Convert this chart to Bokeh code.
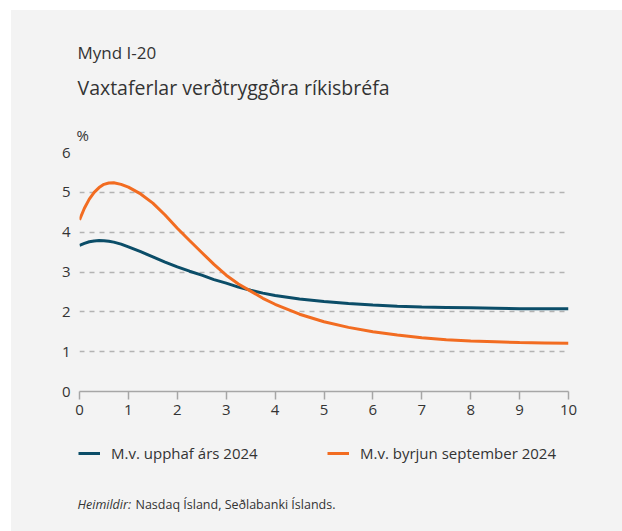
from bokeh.plotting import figure
from bokeh.models import Range1d, FixedTicker, Label, Legend, LegendItem
from bokeh.layouts import column
from bokeh.embed import file_html
from bokeh.resources import INLINE

# ---- data ----
maturity = [0, 0.1, 0.2, 0.3, 0.4, 0.5, 0.6, 0.7, 0.85, 1, 1.25, 1.5, 1.75, 2,
            2.25, 2.5, 2.75, 3, 3.25, 3.5, 3.75, 4, 4.5, 5, 5.5, 6, 6.5, 7,
            7.5, 8, 8.5, 9, 9.5, 10]
upphaf_2024 = [3.67, 3.72, 3.76, 3.78, 3.79, 3.785, 3.77, 3.75, 3.70, 3.63,
               3.51, 3.38, 3.25, 3.13, 3.02, 2.92, 2.81, 2.72, 2.62, 2.54,
               2.47, 2.41, 2.32, 2.26, 2.21, 2.17, 2.14, 2.12, 2.11, 2.10,
               2.09, 2.08, 2.08, 2.08]
sept_2024 = [4.31, 4.60, 4.83, 5.00, 5.12, 5.20, 5.235, 5.24, 5.20, 5.13,
             4.96, 4.73, 4.43, 4.10, 3.79, 3.49, 3.19, 2.92, 2.70, 2.52,
             2.34, 2.19, 1.94, 1.75, 1.61, 1.50, 1.42, 1.35, 1.30, 1.27,
             1.25, 1.23, 1.22, 1.21]
x_ticks = [0, 1, 2, 3, 4, 5, 6, 7, 8, 9, 10]
y_ticks = [0, 1, 2, 3, 4, 5, 6]
series_names = ["M.v. upphaf árs 2024", "M.v. byrjun september 2024"]
title_text = "Mynd I-20"
subtitle_text = "Vaxtaferlar verðtryggðra ríkisbréfa"
unit_text = "%"
source_italic = "Heimildir:"
source_rest = "Nasdaq Ísland, Seðlabanki Íslands."

NAVY = "#0b4d68"
ORANGE = "#f26c21"
BG = "#f3f3f3"
TXT = "#333333"
FONT = "Open Sans"
W = 611


def blank_fig(height):
    f = figure(width=W, height=height, output_backend="svg", toolbar_location=None,
               x_range=Range1d(0, W), y_range=Range1d(height, 0),
               x_axis_location=None, y_axis_location=None,
               min_border=0, background_fill_color=BG, border_fill_color=BG,
               outline_line_color=None, frame_align=False)
    f.xgrid.visible = False
    f.ygrid.visible = False
    return f


def add_label(f, x, y, text, size, style="normal"):
    f.add_layout(Label(x=x, y=y, text=text, text_font=FONT, text_font_size=size,
                       text_color=TXT, text_font_style=style,
                       text_baseline="alphabetic", text_align="left"))


# ---- header (titles and unit) ----
header = blank_fig(132)
add_label(header, 66, 41.7, title_text, "17px")
add_label(header, 66, 76.7, subtitle_text, "19.5px")
add_label(header, 65, 124.3, unit_text, "15px")

# ---- main chart ----
p = figure(width=W, height=283, output_backend="svg", toolbar_location=None,
           x_range=Range1d(0, 10), y_range=Range1d(0, 6),
           min_border_left=68, min_border_right=54, min_border_top=10,
           min_border_bottom=34, background_fill_color=BG,
           border_fill_color=BG, outline_line_color=None, frame_align=False)

p.line(maturity, upphaf_2024, line_color=NAVY, line_width=3)
p.line(maturity, sept_2024, line_color=ORANGE, line_width=3)

p.xaxis.ticker = FixedTicker(ticks=x_ticks)
p.yaxis.ticker = FixedTicker(ticks=y_ticks)
p.xaxis.axis_line_color = "#a6a6a6"
p.xaxis.axis_line_width = 1.5
p.xaxis.major_tick_line_color = "#a6a6a6"
p.xaxis.major_tick_line_width = 1.5
p.xaxis.major_tick_in = 0
p.xaxis.major_tick_out = 8
p.xaxis.minor_tick_line_color = None
p.xaxis.major_label_standoff = 5
p.yaxis.axis_line_color = None
p.yaxis.major_tick_line_color = None
p.yaxis.minor_tick_line_color = None
p.yaxis.major_tick_out = 0
p.yaxis.major_tick_in = 0
p.yaxis.major_label_standoff = 9
for ax in (p.xaxis[0], p.yaxis[0]):
    ax.major_label_text_font = FONT
    ax.major_label_text_font_size = "15px"
    ax.major_label_text_color = TXT

p.xgrid.grid_line_color = None
p.ygrid.grid_line_color = "#b3b3b3"
p.ygrid.grid_line_dash = "5 5"
p.ygrid.grid_line_width = 1.5

# ---- footer (legend and source) ----
footer = blank_fig(106)
nan = float("nan")
sw1 = footer.line([nan], [nan], line_color=NAVY, line_width=3)
sw2 = footer.line([nan], [nan], line_color=ORANGE, line_width=3)
for renderer, name, vx in ((sw1, series_names[0], 67), (sw2, series_names[1], 316)):
    lg = Legend(items=[LegendItem(label=name, renderers=[renderer])],
                location=(vx, 67.7), orientation="horizontal",
                padding=0, margin=0, spacing=0, border_line_color=None,
                background_fill_alpha=0, glyph_width=22, glyph_height=20,
                label_height=20, label_standoff=11, label_text_font=FONT,
                label_text_font_size="15px", label_text_color=TXT,
                label_text_baseline="middle")
    footer.add_layout(lg, "center")

add_label(footer, 66, 79, source_italic, "12.5px", "italic")
add_label(footer, 124, 79, source_rest, "12.5px")

layout = column(header, p, footer, spacing=0)
layout.margin = (10, 0, 0, 11)
layout.styles = {"background-color": BG}

open("out.html", "w").write(file_html(layout, INLINE))
